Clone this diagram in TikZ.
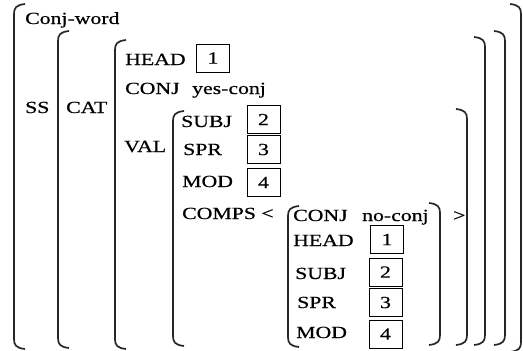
\documentclass[tikz,border=0pt]{standalone}
\usepackage{fontspec}
\setmainfont[FakeStretch=1.28,FakeBold=0.6]{Liberation Serif}
\newcommand{\LBrk}[3]{\draw[brk] ({#1+11},{#3+1}) .. controls ({#1+2},{#3}) and ({#1},{#3-3}) .. ({#1},{#3-9}) -- ({#1},{#2+9}) .. controls ({#1},{#2+3}) and ({#1+2},{#2}) .. ({#1+11},{#2-1});}
\newcommand{\RBrk}[3]{\draw[brk] ({#1-11},{#3+1}) .. controls ({#1-2},{#3}) and ({#1},{#3-3}) .. ({#1},{#3-9}) -- ({#1},{#2+9}) .. controls ({#1},{#2+3}) and ({#1-2},{#2}) .. ({#1-11},{#2-1});}
\begin{document}
\begin{tikzpicture}[x=1pt,y=-1pt,
  brk/.style={line width=1.7pt, black!85},
  lab/.style={anchor=west, inner sep=0pt, text height=12pt, text depth=0pt, font=\fontsize{17}{20}\selectfont},
  tag/.style={draw, line width=0.9pt, minimum width=33pt, minimum height=28pt, inner sep=0pt, font=\fontsize{17}{20}\selectfont}]
\useasboundingbox (0,0) rectangle (523,351);
\fill[white] (0,0) rectangle (523,351);
% brackets
\LBrk{14}{5}{348}
\LBrk{58}{32}{347}
\LBrk{115}{41}{348}
\LBrk{173}{112}{345}
\LBrk{288}{207}{346}
\RBrk{440}{204}{344}
\RBrk{467}{110}{344}
\RBrk{485}{38}{344}
\RBrk{505}{32}{344}
\RBrk{521}{5}{351}
% labels
\node[lab] (cw) at (25,18) {Conj-word};
\node[lab] (ss) at (25,107) {SS};
\node[lab] (cat) at (66,107) {CAT};
\node[lab] (head) at (125,59) {HEAD};
\node[tag] (h1) at (213,58) {1};
\node[lab] (conj) at (125,88) {CONJ};
\node[lab] (yc) at (192,88) {yes-conj};
\node[lab] (val) at (124,146) {VAL};
\node[lab] (subj) at (181,121) {SUBJ};
\node[tag] (s2) at (263.5,119.5) {2};
\node[lab] (spr) at (183,149) {SPR};
\node[tag] (p3) at (263.5,149.5) {3};
\node[lab] (mod) at (182,181) {MOD};
\node[tag] (m4) at (263.5,182.5) {4};
\node[lab] (comps) at (182,213) {COMPS <};
\node[lab] (iconj) at (293,215) {CONJ};
\node[lab] (nc) at (362,215) {no-conj};
\node[lab] (ihead) at (293,240) {HEAD};
\node[tag] (ih1) at (387,239.5) {1};
\node[lab] (isubj) at (295,273) {SUBJ};
\node[tag] (is2) at (385.5,272) {2};
\node[lab] (ispr) at (297,302) {SPR};
\node[tag] (ip3) at (385.5,302.5) {3};
\node[lab] (imod) at (296,332) {MOD};
\node[tag] (im4) at (385.5,334) {4};
\node[lab] (gt) at (453,215) {>};
\end{tikzpicture}
\end{document}
